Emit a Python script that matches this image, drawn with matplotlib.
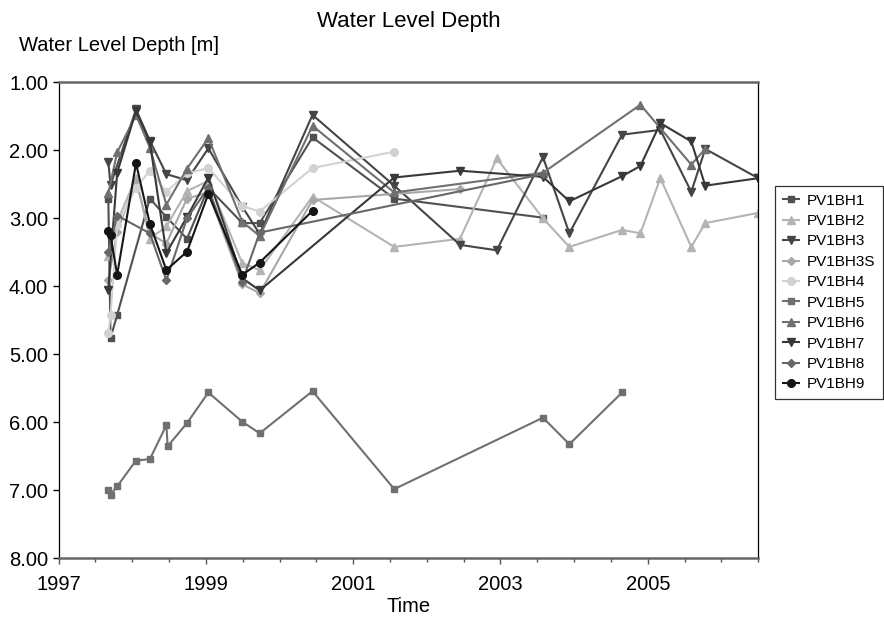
import matplotlib
matplotlib.use("Agg")
import matplotlib.pyplot as plt
from matplotlib.ticker import MultipleLocator, FormatStrFormatter

plt.rcParams['font.family'] = ['Liberation Sans', 'DejaVu Sans']

# sampling dates (decimal years) and water level depths [m] per borehole
bh1_t = [1997.676, 1997.706, 1997.796, 1998.240, 1998.464, 1998.744, 1999.034, 1999.495, 1999.731, 2000.448, 2001.558, 2003.577]
bh1_d = [2.71, 4.76, 4.42, 2.71, 2.98, 3.30, 2.55, 3.07, 3.07, 1.81, 2.71, 2.99]

bh2_t = [1997.676, 1997.796, 1998.052, 1998.240, 1998.464, 1998.744, 1999.034, 1999.495, 1999.731, 2000.448,
         2001.558, 2002.450, 2002.950, 2003.577, 2003.935, 2004.651, 2004.900, 2005.170, 2005.590, 2005.780, 2006.500]
bh2_d = [3.55, 3.05, 2.40, 3.30, 3.12, 2.60, 2.45, 3.66, 3.76, 2.68,
         3.42, 3.30, 2.12, 3.00, 3.42, 3.17, 3.22, 2.41, 3.42, 3.07, 2.92]

bh3_t = [1997.676, 1997.706, 1998.052, 1998.240, 1998.464, 1998.744, 1999.034, 1999.495, 1999.731, 2000.448,
         2001.558, 2002.450, 2002.950, 2003.577, 2003.935, 2004.651, 2005.170, 2005.590, 2005.780, 2006.500]
bh3_d = [2.17, 2.51, 1.40, 1.86, 2.35, 2.44, 1.97, 2.83, 3.23, 1.48,
         2.52, 3.39, 3.47, 2.10, 3.22, 1.77, 1.70, 2.61, 1.98, 2.41]

bh3s_t = [1997.676, 1997.796, 1998.052, 1998.240, 1998.464, 1998.744, 1999.034, 1999.495, 1999.731, 2000.448, 2002.450]
bh3s_d = [3.91, 3.20, 2.45, 3.22, 3.37, 2.71, 2.62, 3.97, 4.10, 2.73, 2.57]

bh4_t = [1997.676, 1997.706, 1997.796, 1998.052, 1998.240, 1998.464, 1998.744, 1999.034, 1999.495, 1999.731, 2000.448, 2001.558]
bh4_d = [4.69, 4.42, 3.10, 2.55, 2.30, 2.61, 2.34, 2.26, 2.82, 2.90, 2.26, 2.02]

bh5_t = [1997.676, 1997.706, 1997.796, 1998.052, 1998.240, 1998.464, 1998.482, 1998.744, 1999.034, 1999.495,
         1999.731, 2000.448, 2001.558, 2003.577, 2003.935, 2004.651]
bh5_d = [6.99, 7.06, 6.94, 6.56, 6.54, 6.04, 6.35, 6.01, 5.56, 5.99,
         6.16, 5.54, 6.98, 5.93, 6.32, 5.56]

bh6_t = [1997.676, 1997.796, 1998.052, 1998.240, 1998.464, 1998.744, 1999.034, 1999.495, 1999.731, 2000.448,
         2001.558, 2003.577, 2004.900, 2005.590, 2005.780]
bh6_d = [2.63, 2.03, 1.48, 1.96, 2.80, 2.27, 1.82, 3.05, 3.26, 1.64,
         2.62, 2.33, 1.33, 2.21, 1.98]

bh7_t = [1997.676, 1997.796, 1998.052, 1998.240, 1998.464, 1998.744, 1999.034, 1999.495, 1999.731, 2001.558,
         2002.450, 2003.577, 2003.935, 2004.651, 2004.900, 2005.170, 2005.590, 2005.780, 2006.500]
bh7_d = [4.05, 2.33, 1.42, 1.88, 3.51, 2.98, 2.40, 3.88, 4.06, 2.40,
         2.30, 2.39, 2.75, 2.38, 2.23, 1.60, 1.87, 2.52, 2.41]

bh8_t = [1997.676, 1997.796, 1998.240, 1998.464, 1998.744, 1999.034, 1999.495, 1999.731, 2003.577]
bh8_d = [3.49, 2.96, 3.22, 3.91, 3.00, 2.55, 3.93, 3.21, 2.35]

bh9_t = [1997.676, 1997.706, 1997.796, 1998.052, 1998.240, 1998.464, 1998.744, 1999.034, 1999.495, 1999.731, 2000.448]
bh9_d = [3.19, 3.25, 3.83, 2.19, 3.08, 3.76, 3.49, 2.64, 3.83, 3.65, 2.89]

names = ['PV1BH1', 'PV1BH2', 'PV1BH3', 'PV1BH3S', 'PV1BH4', 'PV1BH5', 'PV1BH6', 'PV1BH7', 'PV1BH8', 'PV1BH9']
times = [bh1_t, bh2_t, bh3_t, bh3s_t, bh4_t, bh5_t, bh6_t, bh7_t, bh8_t, bh9_t]
depths = [bh1_d, bh2_d, bh3_d, bh3s_d, bh4_d, bh5_d, bh6_d, bh7_d, bh8_d, bh9_d]
year_ticks = [1997, 1999, 2001, 2003, 2005]

colors = ['#505050', '#b4b4b4', '#454545', '#a8a8a8', '#d2d2d2', '#707070', '#707070', '#383838', '#686868', '#151515']
markers = ['s', '^', 'v', 'D', 'o', 's', '^', 'v', 'D', 'o']
msizes = [5, 5.5, 5.5, 3.8, 5.5, 5, 5.5, 5.5, 3.8, 5.5]

fig = plt.figure(figsize=(8.84, 6.29), dpi=100)
ax = fig.add_axes([0.0662, 0.1121, 0.7916, 0.7571])

for n, t, d, c, m, ms in zip(names, times, depths, colors, markers, msizes):
    ax.plot(t, d, color=c, marker=m, markersize=ms, linewidth=1.5, label=n)

ax.set_xlim(1997, 2006.5)
ax.set_ylim(8, 1)
ax.set_xticks(year_ticks)
ax.xaxis.set_minor_locator(MultipleLocator(0.5))
ax.yaxis.set_major_locator(MultipleLocator(1))
ax.yaxis.set_major_formatter(FormatStrFormatter('%.2f'))
ax.tick_params(axis='both', labelsize=14.5, direction='out', length=4, width=1)
ax.tick_params(axis='x', which='minor', length=3, width=1, color='#555555')
ax.tick_params(axis='x', which='major', color='#555555', pad=8)

for s in ['top', 'bottom']:
    ax.spines[s].set_color('#666666')
    ax.spines[s].set_linewidth(1.8)
for s in ['left', 'right']:
    ax.spines[s].set_color('black')
    ax.spines[s].set_linewidth(0.9)

ax.set_title('Water Level Depth', fontsize=16, pad=40)
ax.set_xlabel('Time', fontsize=14.5, labelpad=2)
fig.text(0.022, 0.928, 'Water Level Depth [m]', fontsize=14.5, ha='left', va='center')

leg = ax.legend(loc='upper left', bbox_to_anchor=(775 / 884, 1 - 186 / 629), bbox_transform=fig.transFigure,
                fontsize=11, frameon=True, fancybox=False, edgecolor='black', handlelength=1.1,
                labelspacing=0.42, borderpad=0.5, handletextpad=0.5, borderaxespad=0)
leg.get_frame().set_linewidth(0.9)

fig.savefig('out.png', dpi=100)
